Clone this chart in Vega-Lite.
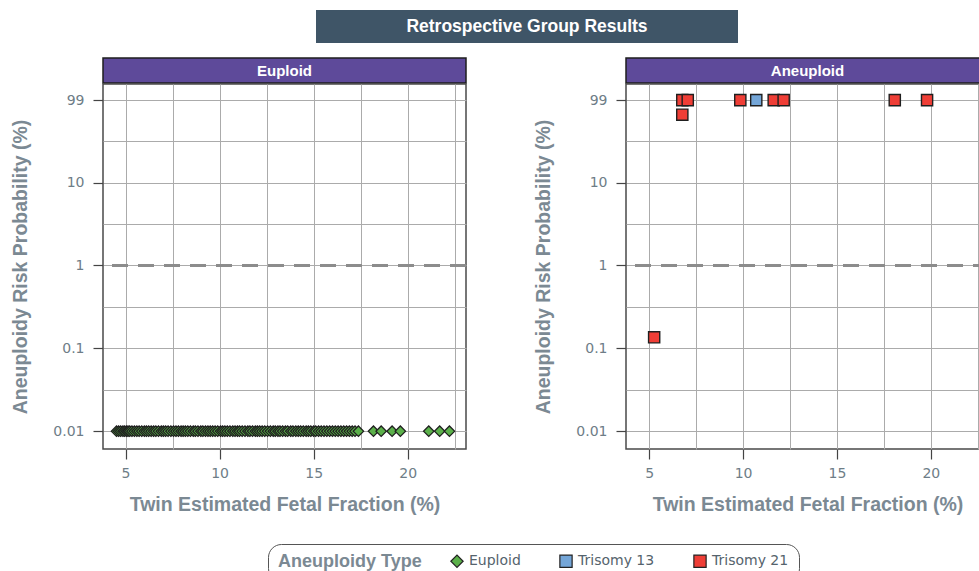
{
  "$schema": "https://vega.github.io/schema/vega-lite/v6.json",
  "background": "white",
  "padding": {"left": 10, "top": 10, "right": 0, "bottom": 0},
  "datasets": {
    "results": [
      {"group": "Euploid", "type": "Euploid", "ff": 4.52, "risk": 0.01},
      {"group": "Euploid", "type": "Euploid", "ff": 4.63, "risk": 0.01},
      {"group": "Euploid", "type": "Euploid", "ff": 4.74, "risk": 0.01},
      {"group": "Euploid", "type": "Euploid", "ff": 4.86, "risk": 0.01},
      {"group": "Euploid", "type": "Euploid", "ff": 4.95, "risk": 0.01},
      {"group": "Euploid", "type": "Euploid", "ff": 5.05, "risk": 0.01},
      {"group": "Euploid", "type": "Euploid", "ff": 5.13, "risk": 0.01},
      {"group": "Euploid", "type": "Euploid", "ff": 5.22, "risk": 0.01},
      {"group": "Euploid", "type": "Euploid", "ff": 5.34, "risk": 0.01},
      {"group": "Euploid", "type": "Euploid", "ff": 5.47, "risk": 0.01},
      {"group": "Euploid", "type": "Euploid", "ff": 5.6, "risk": 0.01},
      {"group": "Euploid", "type": "Euploid", "ff": 5.72, "risk": 0.01},
      {"group": "Euploid", "type": "Euploid", "ff": 5.86, "risk": 0.01},
      {"group": "Euploid", "type": "Euploid", "ff": 6.0, "risk": 0.01},
      {"group": "Euploid", "type": "Euploid", "ff": 6.11, "risk": 0.01},
      {"group": "Euploid", "type": "Euploid", "ff": 6.23, "risk": 0.01},
      {"group": "Euploid", "type": "Euploid", "ff": 6.36, "risk": 0.01},
      {"group": "Euploid", "type": "Euploid", "ff": 6.49, "risk": 0.01},
      {"group": "Euploid", "type": "Euploid", "ff": 6.61, "risk": 0.01},
      {"group": "Euploid", "type": "Euploid", "ff": 6.75, "risk": 0.01},
      {"group": "Euploid", "type": "Euploid", "ff": 6.9, "risk": 0.01},
      {"group": "Euploid", "type": "Euploid", "ff": 7.01, "risk": 0.01},
      {"group": "Euploid", "type": "Euploid", "ff": 7.13, "risk": 0.01},
      {"group": "Euploid", "type": "Euploid", "ff": 7.26, "risk": 0.01},
      {"group": "Euploid", "type": "Euploid", "ff": 7.41, "risk": 0.01},
      {"group": "Euploid", "type": "Euploid", "ff": 7.55, "risk": 0.01},
      {"group": "Euploid", "type": "Euploid", "ff": 7.68, "risk": 0.01},
      {"group": "Euploid", "type": "Euploid", "ff": 7.81, "risk": 0.01},
      {"group": "Euploid", "type": "Euploid", "ff": 7.95, "risk": 0.01},
      {"group": "Euploid", "type": "Euploid", "ff": 8.06, "risk": 0.01},
      {"group": "Euploid", "type": "Euploid", "ff": 8.18, "risk": 0.01},
      {"group": "Euploid", "type": "Euploid", "ff": 8.31, "risk": 0.01},
      {"group": "Euploid", "type": "Euploid", "ff": 8.45, "risk": 0.01},
      {"group": "Euploid", "type": "Euploid", "ff": 8.6, "risk": 0.01},
      {"group": "Euploid", "type": "Euploid", "ff": 8.71, "risk": 0.01},
      {"group": "Euploid", "type": "Euploid", "ff": 8.85, "risk": 0.01},
      {"group": "Euploid", "type": "Euploid", "ff": 9.0, "risk": 0.01},
      {"group": "Euploid", "type": "Euploid", "ff": 9.11, "risk": 0.01},
      {"group": "Euploid", "type": "Euploid", "ff": 9.25, "risk": 0.01},
      {"group": "Euploid", "type": "Euploid", "ff": 9.38, "risk": 0.01},
      {"group": "Euploid", "type": "Euploid", "ff": 9.5, "risk": 0.01},
      {"group": "Euploid", "type": "Euploid", "ff": 9.63, "risk": 0.01},
      {"group": "Euploid", "type": "Euploid", "ff": 9.76, "risk": 0.01},
      {"group": "Euploid", "type": "Euploid", "ff": 9.9, "risk": 0.01},
      {"group": "Euploid", "type": "Euploid", "ff": 10.05, "risk": 0.01},
      {"group": "Euploid", "type": "Euploid", "ff": 10.16, "risk": 0.01},
      {"group": "Euploid", "type": "Euploid", "ff": 10.28, "risk": 0.01},
      {"group": "Euploid", "type": "Euploid", "ff": 10.41, "risk": 0.01},
      {"group": "Euploid", "type": "Euploid", "ff": 10.55, "risk": 0.01},
      {"group": "Euploid", "type": "Euploid", "ff": 10.7, "risk": 0.01},
      {"group": "Euploid", "type": "Euploid", "ff": 10.82, "risk": 0.01},
      {"group": "Euploid", "type": "Euploid", "ff": 10.95, "risk": 0.01},
      {"group": "Euploid", "type": "Euploid", "ff": 11.06, "risk": 0.01},
      {"group": "Euploid", "type": "Euploid", "ff": 11.2, "risk": 0.01},
      {"group": "Euploid", "type": "Euploid", "ff": 11.35, "risk": 0.01},
      {"group": "Euploid", "type": "Euploid", "ff": 11.5, "risk": 0.01},
      {"group": "Euploid", "type": "Euploid", "ff": 11.61, "risk": 0.01},
      {"group": "Euploid", "type": "Euploid", "ff": 11.75, "risk": 0.01},
      {"group": "Euploid", "type": "Euploid", "ff": 11.9, "risk": 0.01},
      {"group": "Euploid", "type": "Euploid", "ff": 12.01, "risk": 0.01},
      {"group": "Euploid", "type": "Euploid", "ff": 12.13, "risk": 0.01},
      {"group": "Euploid", "type": "Euploid", "ff": 12.26, "risk": 0.01},
      {"group": "Euploid", "type": "Euploid", "ff": 12.4, "risk": 0.01},
      {"group": "Euploid", "type": "Euploid", "ff": 12.55, "risk": 0.01},
      {"group": "Euploid", "type": "Euploid", "ff": 12.7, "risk": 0.01},
      {"group": "Euploid", "type": "Euploid", "ff": 12.85, "risk": 0.01},
      {"group": "Euploid", "type": "Euploid", "ff": 12.96, "risk": 0.01},
      {"group": "Euploid", "type": "Euploid", "ff": 13.1, "risk": 0.01},
      {"group": "Euploid", "type": "Euploid", "ff": 13.21, "risk": 0.01},
      {"group": "Euploid", "type": "Euploid", "ff": 13.35, "risk": 0.01},
      {"group": "Euploid", "type": "Euploid", "ff": 13.5, "risk": 0.01},
      {"group": "Euploid", "type": "Euploid", "ff": 13.62, "risk": 0.01},
      {"group": "Euploid", "type": "Euploid", "ff": 13.78, "risk": 0.01},
      {"group": "Euploid", "type": "Euploid", "ff": 13.9, "risk": 0.01},
      {"group": "Euploid", "type": "Euploid", "ff": 14.05, "risk": 0.01},
      {"group": "Euploid", "type": "Euploid", "ff": 14.18, "risk": 0.01},
      {"group": "Euploid", "type": "Euploid", "ff": 14.31, "risk": 0.01},
      {"group": "Euploid", "type": "Euploid", "ff": 14.45, "risk": 0.01},
      {"group": "Euploid", "type": "Euploid", "ff": 14.6, "risk": 0.01},
      {"group": "Euploid", "type": "Euploid", "ff": 14.72, "risk": 0.01},
      {"group": "Euploid", "type": "Euploid", "ff": 14.85, "risk": 0.01},
      {"group": "Euploid", "type": "Euploid", "ff": 15.0, "risk": 0.01},
      {"group": "Euploid", "type": "Euploid", "ff": 15.11, "risk": 0.01},
      {"group": "Euploid", "type": "Euploid", "ff": 15.26, "risk": 0.01},
      {"group": "Euploid", "type": "Euploid", "ff": 15.4, "risk": 0.01},
      {"group": "Euploid", "type": "Euploid", "ff": 15.55, "risk": 0.01},
      {"group": "Euploid", "type": "Euploid", "ff": 15.7, "risk": 0.01},
      {"group": "Euploid", "type": "Euploid", "ff": 15.85, "risk": 0.01},
      {"group": "Euploid", "type": "Euploid", "ff": 16.0, "risk": 0.01},
      {"group": "Euploid", "type": "Euploid", "ff": 16.15, "risk": 0.01},
      {"group": "Euploid", "type": "Euploid", "ff": 16.3, "risk": 0.01},
      {"group": "Euploid", "type": "Euploid", "ff": 16.45, "risk": 0.01},
      {"group": "Euploid", "type": "Euploid", "ff": 16.6, "risk": 0.01},
      {"group": "Euploid", "type": "Euploid", "ff": 16.75, "risk": 0.01},
      {"group": "Euploid", "type": "Euploid", "ff": 16.9, "risk": 0.01},
      {"group": "Euploid", "type": "Euploid", "ff": 17.05, "risk": 0.01},
      {"group": "Euploid", "type": "Euploid", "ff": 17.2, "risk": 0.01},
      {"group": "Euploid", "type": "Euploid", "ff": 17.38, "risk": 0.01},
      {"group": "Euploid", "type": "Euploid", "ff": 18.18, "risk": 0.01},
      {"group": "Euploid", "type": "Euploid", "ff": 18.59, "risk": 0.01},
      {"group": "Euploid", "type": "Euploid", "ff": 19.17, "risk": 0.01},
      {"group": "Euploid", "type": "Euploid", "ff": 19.61, "risk": 0.01},
      {"group": "Euploid", "type": "Euploid", "ff": 21.12, "risk": 0.01},
      {"group": "Euploid", "type": "Euploid", "ff": 21.7, "risk": 0.01},
      {"group": "Euploid", "type": "Euploid", "ff": 22.22, "risk": 0.01},
      {"group": "Aneuploid", "type": "Trisomy 21", "ff": 5.26, "risk": 0.136},
      {"group": "Aneuploid", "type": "Trisomy 21", "ff": 6.76, "risk": 66},
      {"group": "Aneuploid", "type": "Trisomy 21", "ff": 6.76, "risk": 99},
      {"group": "Aneuploid", "type": "Trisomy 21", "ff": 7.05, "risk": 99},
      {"group": "Aneuploid", "type": "Trisomy 21", "ff": 9.85, "risk": 99},
      {"group": "Aneuploid", "type": "Trisomy 13", "ff": 10.7, "risk": 99},
      {"group": "Aneuploid", "type": "Trisomy 21", "ff": 11.63, "risk": 99},
      {"group": "Aneuploid", "type": "Trisomy 21", "ff": 12.16, "risk": 99},
      {"group": "Aneuploid", "type": "Trisomy 21", "ff": 18.08, "risk": 99},
      {"group": "Aneuploid", "type": "Trisomy 21", "ff": 19.8, "risk": 99}
    ]
  },
  "config": {
    "font": "Liberation Sans",
    "view": {"stroke": "#4a4a4a", "strokeWidth": 1.5},
    "axis": {
      "domain": false,
      "gridColor": "#ababab",
      "gridWidth": 1,
      "tickColor": "#444444",
      "tickSize": 10,
      "tickWidth": 1.2,
      "labelFont": "DejaVu Sans",
      "labelFontSize": 14,
      "labelColor": "#6e7d87",
      "titleFont": "Liberation Sans",
      "titleFontSize": 19.5,
      "titleFontWeight": "bold",
      "titleColor": "#7b8993"
    },
    "axisX": {"labelPadding": 7, "titlePadding": 15},
    "axisY": {"labelPadding": 9, "titlePadding": 22},
    "legend": {
      "direction": "horizontal",
      "titleOrient": "left",
      "strokeColor": "#555555",
      "cornerRadius": 13,
      "padding": 10,
      "fillColor": "white",
      "titleFont": "Liberation Sans",
      "titleFontSize": 18,
      "titleFontWeight": "bold",
      "titleColor": "#7b8993",
      "titlePadding": 28,
      "labelFont": "DejaVu Sans",
      "labelFontSize": 14,
      "labelColor": "#55636c",
      "labelOffset": 5,
      "symbolSize": 150,
      "symbolStrokeColor": "#222222",
      "symbolStrokeWidth": 1.2,
      "columnPadding": 36
    }
  },
  "spacing": 14,
  "vconcat": [
    {
      "spacing": 0,
      "hconcat": [
        {
          "width": 213,
          "height": 33,
          "view": {"stroke": null},
          "data": {"values": []},
          "mark": "rect",
          "encoding": {}
        },
        {
          "width": 422,
          "height": 33,
          "view": {"stroke": null},
          "data": {"values": [{"label": "Retrospective Group Results"}]},
          "layer": [
            {"mark": {"type": "rect", "color": "#3f5567"}, "encoding": {}},
            {
              "mark": {"type": "text", "color": "white", "fontSize": 17.5, "fontWeight": "bold", "font": "Liberation Sans"},
              "encoding": {"text": {"field": "label"}}
            }
          ]
        }
      ]
    },
    {
      "spacing": 64,
      "hconcat": [
        {
          "spacing": -1.5,
          "vconcat": [
            {
              "width": 363,
              "height": 25,
              "view": {"stroke": null},
              "data": {"values": [{"panel": "Euploid"}]},
              "layer": [
                {"mark": {"type": "rect", "color": "#5e4a9a", "stroke": "#1e1e1e", "strokeWidth": 1.5}, "encoding": {}},
                {
                  "mark": {"type": "text", "color": "white", "fontSize": 15, "fontWeight": "bold", "font": "Liberation Sans"},
                  "encoding": {"text": {"field": "panel"}}
                }
              ]
            },
            {
              "width": 363,
              "height": 365,
              "layer": [
                {
                  "data": {"values": [{"threshold": 1}]},
                  "mark": {"type": "rule", "color": "#8c8c8c", "strokeWidth": 3, "strokeDash": [16, 10]},
                  "encoding": {"y": {"field": "threshold", "type": "quantitative"}}
                },
                {
                  "data": {"name": "results"},
                  "transform": [{"filter": "datum.group === 'Euploid'"}],
                  "mark": {"type": "point", "filled": true, "opacity": 1, "stroke": "#1f1f1f", "strokeWidth": 1.2, "size": 110},
                  "encoding": {
                    "x": {
                      "field": "ff", "type": "quantitative",
                      "scale": {"domain": [3.8, 23.1], "nice": false, "zero": false},
                      "axis": {
                        "title": "Twin Estimated Fetal Fraction (%)",
                        "values": [5, 7.5, 10, 12.5, 15, 17.5, 20, 22.5],
                        "labelExpr": "datum.value % 5 === 0 ? datum.label : ''",
                        "tickColor": {"condition": {"test": "datum.value % 5 !== 0", "value": "transparent"}, "value": "#444444"}
                      }
                    },
                    "y": {
                      "field": "risk", "type": "quantitative",
                      "scale": {"type": "log", "domain": [0.0061, 155], "nice": false},
                      "axis": {
                        "title": "Aneuploidy Risk Probability (%)",
                        "values": [0.01, 0.0316, 0.1, 0.316, 1, 3.16, 10, 31.6, 99],
                        "format": "~g",
                        "labelExpr": "indexof([0.01, 0.1, 1, 10, 99], datum.value) >= 0 ? datum.label : ''",
                        "tickColor": {"condition": {"test": "indexof([0.01, 0.1, 1, 10, 99], datum.value) < 0", "value": "transparent"}, "value": "#444444"}
                      }
                    },
                    "color": {
                      "field": "type", "type": "nominal",
                      "scale": {"domain": ["Euploid", "Trisomy 13", "Trisomy 21"], "range": ["#5bb04a", "#74a6d8", "#ef3e36"]},
                      "legend": {"title": "Aneuploidy Type", "orient": "none", "legendX": 165, "legendY": 534}
                    },
                    "shape": {
                      "field": "type", "type": "nominal",
                      "scale": {"domain": ["Euploid", "Trisomy 13", "Trisomy 21"], "range": ["diamond", "square", "square"]},
                      "legend": {"title": "Aneuploidy Type", "orient": "none", "legendX": 165, "legendY": 534}
                    }
                  }
                }
              ]
            }
          ]
        },
        {
          "spacing": -1.5,
          "vconcat": [
            {
              "width": 363,
              "height": 25,
              "view": {"stroke": null},
              "data": {"values": [{"panel": "Aneuploid"}]},
              "layer": [
                {"mark": {"type": "rect", "color": "#5e4a9a", "stroke": "#1e1e1e", "strokeWidth": 1.5}, "encoding": {}},
                {
                  "mark": {"type": "text", "color": "white", "fontSize": 15, "fontWeight": "bold", "font": "Liberation Sans"},
                  "encoding": {"text": {"field": "panel"}}
                }
              ]
            },
            {
              "width": 363,
              "height": 365,
              "layer": [
                {
                  "data": {"values": [{"threshold": 1}]},
                  "mark": {"type": "rule", "color": "#8c8c8c", "strokeWidth": 3, "strokeDash": [16, 10]},
                  "encoding": {"y": {"field": "threshold", "type": "quantitative"}}
                },
                {
                  "data": {"name": "results"},
                  "transform": [{"filter": "datum.group === 'Aneuploid'"}],
                  "mark": {"type": "point", "filled": true, "opacity": 1, "stroke": "#1f1f1f", "strokeWidth": 1.4, "size": 125},
                  "encoding": {
                    "x": {
                      "field": "ff", "type": "quantitative",
                      "scale": {"domain": [3.76, 23.1], "nice": false, "zero": false},
                      "axis": {
                        "title": "Twin Estimated Fetal Fraction (%)",
                        "values": [5, 7.5, 10, 12.5, 15, 17.5, 20, 22.5],
                        "labelExpr": "datum.value % 5 === 0 ? datum.label : ''",
                        "tickColor": {"condition": {"test": "datum.value % 5 !== 0", "value": "transparent"}, "value": "#444444"}
                      }
                    },
                    "y": {
                      "field": "risk", "type": "quantitative",
                      "scale": {"type": "log", "domain": [0.0061, 155], "nice": false},
                      "axis": {
                        "title": "Aneuploidy Risk Probability (%)",
                        "values": [0.01, 0.0316, 0.1, 0.316, 1, 3.16, 10, 31.6, 99],
                        "format": "~g",
                        "labelExpr": "indexof([0.01, 0.1, 1, 10, 99], datum.value) >= 0 ? datum.label : ''",
                        "tickColor": {"condition": {"test": "indexof([0.01, 0.1, 1, 10, 99], datum.value) < 0", "value": "transparent"}, "value": "#444444"}
                      }
                    },
                    "color": {
                      "field": "type", "type": "nominal",
                      "scale": {"domain": ["Euploid", "Trisomy 13", "Trisomy 21"], "range": ["#5bb04a", "#74a6d8", "#ef3e36"]},
                      "legend": {"title": "Aneuploidy Type", "orient": "none", "legendX": 165, "legendY": 534}
                    },
                    "shape": {
                      "field": "type", "type": "nominal",
                      "scale": {"domain": ["Euploid", "Trisomy 13", "Trisomy 21"], "range": ["diamond", "square", "square"]},
                      "legend": {"title": "Aneuploidy Type", "orient": "none", "legendX": 165, "legendY": 534}
                    }
                  }
                }
              ]
            }
          ]
        }
      ]
    }
  ]
}
